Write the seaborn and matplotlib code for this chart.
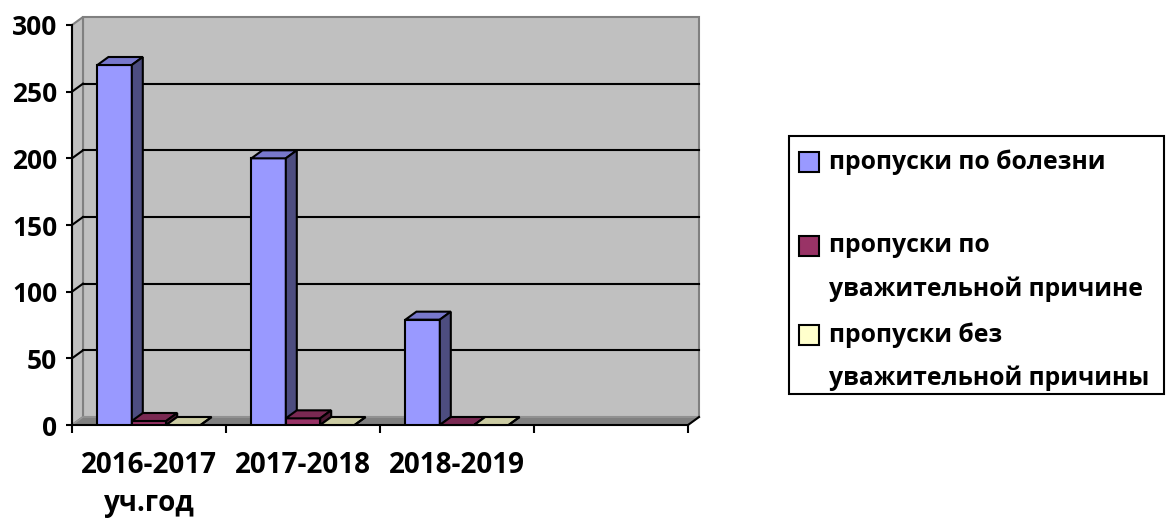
import matplotlib
matplotlib.use("Agg")
import matplotlib.pyplot as plt
import matplotlib.transforms as mtransforms
from matplotlib.patches import Polygon, Rectangle
from matplotlib.lines import Line2D
import pandas as pd
import seaborn as sns

# --- Data ---
years = ["2016-2017\nуч.год", "2017-2018", "2018-2019", ""]
series = ["пропуски по болезни",
          "пропуски по уважительной причине",
          "пропуски без уважительной причины"]
legend_labels = ["пропуски по болезни",
                 "пропуски по\nуважительной причине",
                 "пропуски без\nуважительной причины"]
illness = [270, 200, 79]
excused = [3, 5, 0]
unexcused = [0, 0, 0]
y_ticks = [0, 50, 100, 150, 200, 250, 300]

front_colors = ["#9999FF", "#993366", "#FFFFCC"]
top_colors = ["#7878CC", "#7A2952", "#CCCCA3"]
side_colors = ["#4D4D80", "#4D1A33", "#808066"]

# --- Config ---
W, H = 1166, 518
DX, DY = 11, 8  # depth of the fake 3D, pixels
LW = 1.5

plt.rcParams["font.family"] = ["Open Sans", "DejaVu Sans"]
plt.rcParams["font.weight"] = "bold"
plt.rcParams["font.size"] = 18

rows = []
for i, y in enumerate(years[:3]):
    rows.append({"year": y, "series": series[0], "value": illness[i]})
    rows.append({"year": y, "series": series[1], "value": excused[i]})
    rows.append({"year": y, "series": series[2], "value": unexcused[i]})
df = pd.DataFrame(rows)

# --- Plot ---
fig = plt.figure(figsize=(W / 100, H / 100), dpi=100)
ax = fig.add_axes([72 / W, (H - 425) / H, 616 / W, 400 / H])
sns.barplot(data=df, x="year", y="value", hue="series", order=years,
            hue_order=series, palette=front_colors, width=0.67,
            edgecolor="black", linewidth=LW, legend=False, ax=ax,
            saturation=1, zorder=3)
ax.set_xlim(-0.5, len(years) - 0.5)
ax.set_ylim(0, y_ticks[-1])
ax.patch.set_visible(False)
ax.set_xlabel("")
ax.set_ylabel("")

disp = mtransforms.IdentityTransform()
back = ax.transData + mtransforms.Affine2D().translate(DX, DY)
x_lo, x_hi = -0.5, len(years) - 0.5
y_top = y_ticks[-1]


def to_px(x, y):
    return ax.transData.transform((x, y))


def shift(p):
    return (p[0] + DX, p[1] + DY)


# back wall
ax.add_patch(Rectangle((x_lo, 0), x_hi - x_lo, y_top, transform=back,
                       facecolor="#C0C0C0", edgecolor="#808080", lw=LW,
                       zorder=0, clip_on=False))
# side wall
a, b = to_px(x_lo, 0), to_px(x_lo, y_top)
ax.add_patch(Polygon([a, b, shift(b), shift(a)], closed=True, transform=disp,
                     facecolor="#C0C0C0", edgecolor="#808080", lw=LW,
                     zorder=0.2, clip_on=False))
# floor
a, b = to_px(x_lo, 0), to_px(x_hi, 0)
ax.add_patch(Polygon([a, b, shift(b), shift(a)], closed=True, transform=disp,
                     facecolor="#808080", edgecolor="#999999", lw=1,
                     zorder=0.5, clip_on=False))
ax.add_line(Line2D([b[0], b[0] + DX], [b[1], b[1] + DY], transform=disp,
                   color="black", lw=LW, zorder=2.6, clip_on=False))

# gridlines on the back and side walls
for v in y_ticks[1:-1]:
    ax.plot([x_lo, x_hi], [v, v], transform=back, color="black", lw=LW,
            zorder=0.4, clip_on=False)
    p = to_px(x_lo, v)
    ax.add_line(Line2D([p[0], p[0] + DX], [p[1], p[1] + DY], transform=disp,
                       color="black", lw=LW, zorder=0.4, clip_on=False))

# 3D faces for every bar
for k, cont in enumerate(ax.containers):
    for rect in cont:
        h = rect.get_height()
        if h != h:
            continue
        x0 = rect.get_x()
        x1 = x0 + rect.get_width()
        rect.set_zorder(3 + 3 * k)
        p00, p10, p11, p01 = to_px(x0, 0), to_px(x1, 0), to_px(x1, h), to_px(x0, h)
        ax.add_patch(Polygon([p01, p11, shift(p11), shift(p01)], closed=True,
                             transform=disp, facecolor=top_colors[k],
                             edgecolor="black", lw=LW, zorder=4 + 3 * k,
                             clip_on=False, joinstyle="miter"))
        ax.add_patch(Polygon([p10, p11, shift(p11), shift(p10)], closed=True,
                             transform=disp, facecolor=side_colors[k],
                             edgecolor="black", lw=LW, zorder=5 + 3 * k,
                             clip_on=False, joinstyle="miter"))

# axes, ticks
for s in ["top", "right"]:
    ax.spines[s].set_visible(False)
for s in ["left", "bottom"]:
    ax.spines[s].set_color("black")
    ax.spines[s].set_linewidth(LW)
    ax.spines[s].set_zorder(2.5)

ax.set_yticks(y_ticks)
ax.set_yticklabels([str(v) for v in y_ticks])
ax.tick_params(axis="y", left=True, length=4.5, width=LW, color="black",
               pad=6, labelsize=19)
ax.set_xticks(range(len(years)))
ax.set_xticklabels(years, linespacing=1.4)
ax.set_xticks([i - 0.5 for i in range(len(years) + 1)], minor=True)
ax.tick_params(axis="x", which="major", bottom=True, length=0, pad=19,
               labelsize=20)
ax.tick_params(axis="x", which="minor", bottom=True, length=6, width=LW,
               color="black")
for t in ax.get_xticklabels() + ax.get_yticklabels():
    t.set_fontweight("bold")
    t.set_color("black")

# --- Legend (drawn as a box of its own) ---
def fx(x):
    return x / W


def fy(y):
    return 1 - y / H


fig.add_artist(Rectangle((fx(789), fy(394)), (1164 - 789) / W, (394 - 136) / H,
                         transform=fig.transFigure, facecolor="white",
                         edgecolor="black", lw=LW))
entry_y = [162, 246, 335]
line_gap = 43
for k, lab in enumerate(legend_labels):
    cy = entry_y[k]
    fig.add_artist(Rectangle((fx(799), fy(cy + 10)), 20 / W, 20 / H,
                             transform=fig.transFigure,
                             facecolor=front_colors[k], edgecolor="black",
                             lw=LW))
    for j, line in enumerate(lab.split("\n")):
        fig.text(fx(829), fy(cy + j * line_gap), line, ha="left",
                 va="center", fontsize=17.8, fontweight="bold", color="black")

fig.savefig("out.png", dpi=100, facecolor="white")
